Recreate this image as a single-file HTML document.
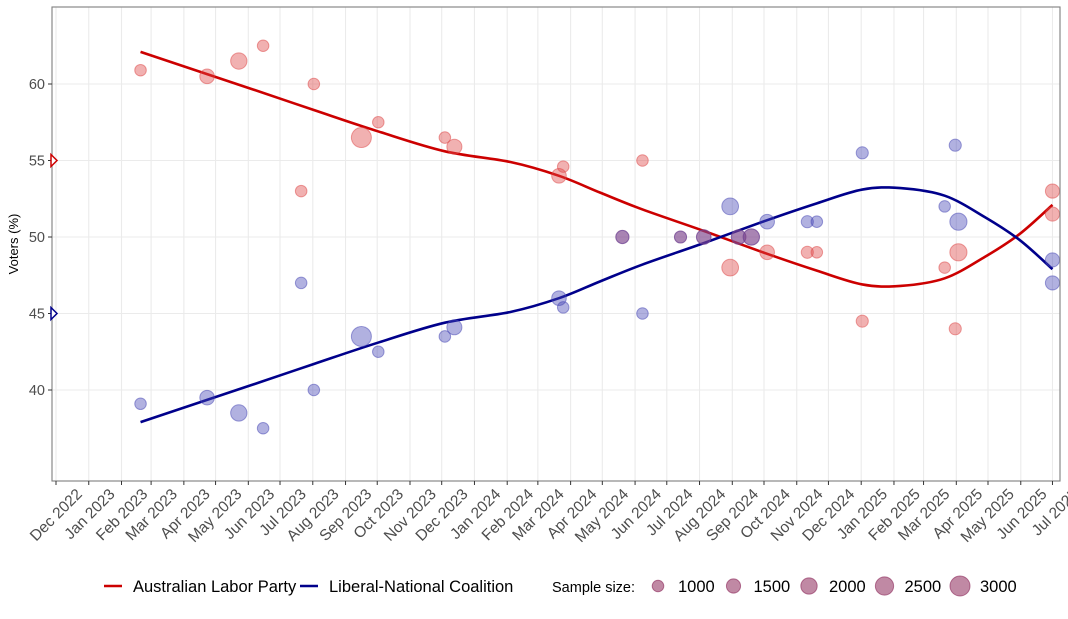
<!DOCTYPE html>
<html><head><meta charset="utf-8"><style>
body{margin:0;background:#fff;font-family:"Liberation Sans",sans-serif}
svg text{font-family:"Liberation Sans",sans-serif}
</style></head><body>
<svg id="chart" width="1068" height="614" xmlns="http://www.w3.org/2000/svg">
<rect x="0" y="0" width="1068" height="614" fill="#fff"/>
<g id="grid"></g><g id="lines"></g><g id="points"></g><g id="axes"></g><g id="legend"></g>
</svg>
<script>
const pollDates=["2023-02-19","2023-04-23","2023-05-23","2023-06-15","2023-07-21","2023-08-02","2023-09-16","2023-10-02","2023-12-04","2023-12-13","2024-03-21","2024-03-25","2024-05-20","2024-06-08","2024-07-14","2024-08-05","2024-08-30","2024-09-07","2024-09-19","2024-10-04","2024-11-11","2024-11-20","2025-01-02","2025-03-21","2025-03-31","2025-04-03","2025-07-01","2025-07-01"];
const laborValues=[60.9,60.5,61.5,62.5,53,60,56.5,57.5,56.5,55.9,54,54.6,50,55,50,50,48,50,50,49,49,49,44.5,48,44,49,53,51.5];
const coalitionValues=[39.1,39.5,38.5,37.5,47,40,43.5,42.5,43.5,44.1,46,45.4,50,45,50,50,52,50,50,51,51,51,55.5,52,56,51,47,48.5];
const sampleSizes=[1000,1600,2000,1000,1000,1000,3000,1000,1000,1700,1600,1000,1300,1000,1100,1600,2100,1600,2000,1600,1100,1000,1100,1000,1100,2200,1500,1500];
const trendDates=["2023-02-19","2023-06-03","2023-08-02","2023-10-02","2023-12-04","2024-02-04","2024-03-21","2024-04-29","2024-06-08","2024-08-05","2024-10-04","2024-11-20","2025-01-02","2025-02-07","2025-03-21","2025-04-28","2025-05-31","2025-07-01"];
const laborTrend=[62.1,59.7,58.3,56.9,55.6,54.9,54.0,52.9,51.8,50.4,48.9,47.8,46.9,46.8,47.3,48.7,50.2,52.1];
const coalitionTrend=[37.9,40.3,41.7,43.1,44.4,45.1,46.0,47.1,48.2,49.6,51.1,52.2,53.1,53.2,52.7,51.3,49.8,47.9];
const tickLabels=["Dec 2022","Jan 2023","Feb 2023","Mar 2023","Apr 2023","May 2023","Jun 2023","Jul 2023","Aug 2023","Sep 2023","Oct 2023","Nov 2023","Dec 2023","Jan 2024","Feb 2024","Mar 2024","Apr 2024","May 2024","Jun 2024","Jul 2024","Aug 2024","Sep 2024","Oct 2024","Nov 2024","Dec 2024","Jan 2025","Feb 2025","Mar 2025","Apr 2025","May 2025","Jun 2025","Jul 2025"];
const yTicks=[40,45,50,55,60];
const legendSizes=[1000,1500,2000,2500,3000];

const NS="http://www.w3.org/2000/svg";
const P={l:52,r:1060,t:7,b:481};
const D0=Date.UTC(2022,11,1);
function x(d){const p=d.split("-");const t=Date.UTC(+p[0],+p[1]-1,+p[2]);return 56+(t-D0)/86400000*1.0567;}
function y(v){return 84+(60-v)*15.3;}
function rad(n){return Math.sqrt(n)*0.1826;}
function el(tag,attrs,parent){const e=document.createElementNS(NS,tag);for(const k in attrs)e.setAttribute(k,attrs[k]);parent.appendChild(e);return e;}
const months=["Jan","Feb","Mar","Apr","May","Jun","Jul","Aug","Sep","Oct","Nov","Dec"];
function labelDate(s){const p=s.split(" ");return p[1]+"-"+String(months.indexOf(p[0])+1).padStart(2,"0")+"-01";}

const grid=document.getElementById("grid");
yTicks.forEach(v=>{const l=el("line",{x1:P.l,x2:P.r,y1:y(v),y2:y(v),stroke:"#ebebeb","stroke-width":1.1},grid);

});
tickLabels.forEach(s=>{const xx=x(labelDate(s));const l=el("line",{x1:xx,x2:xx,y1:P.t,y2:P.b,stroke:"#ebebeb","stroke-width":1.1},grid);

});

function smooth(ds,vs){const pts=ds.map((d,i)=>[x(d),y(vs[i])]);let s="M"+pts[0][0]+","+pts[0][1];
for(let i=0;i<pts.length-1;i++){const p0=pts[Math.max(0,i-1)],p1=pts[i],p2=pts[i+1],p3=pts[Math.min(pts.length-1,i+2)];
s+=" C"+(p1[0]+(p2[0]-p0[0])/6)+","+(p1[1]+(p2[1]-p0[1])/6)+" "+(p2[0]-(p3[0]-p1[0])/6)+","+(p2[1]-(p3[1]-p1[1])/6)+" "+p2[0]+","+p2[1];}return s;}
const lines=document.getElementById("lines");
const lt=el("path",{d:smooth(trendDates,laborTrend),fill:"none",stroke:"#cc0000","stroke-width":2.6},lines);


const ct=el("path",{d:smooth(trendDates,coalitionTrend),fill:"none",stroke:"#00008b","stroke-width":2.6},lines);



const pts=document.getElementById("points");
pollDates.forEach((d,i)=>{
 const a=el("circle",{cx:x(d),cy:y(laborValues[i]),r:rad(sampleSizes[i]),fill:"rgba(222,70,70,0.42)",stroke:"rgba(222,70,70,0.5)"},pts);
 
 
 const b=el("circle",{cx:x(d),cy:y(coalitionValues[i]),r:rad(sampleSizes[i]),fill:"rgba(70,70,180,0.42)",stroke:"rgba(70,70,180,0.5)"},pts);
 
 
});

const ax=document.getElementById("axes");
const fr=el("rect",{x:P.l,y:P.t,width:P.r-P.l,height:P.b-P.t,fill:"none",stroke:"#7f7f7f","stroke-width":1.1},ax);


yTicks.forEach(v=>{el("line",{x1:P.l-4,x2:P.l,y1:y(v),y2:y(v),stroke:"#333"},ax);
 const t=el("text",{x:P.l-7,y:y(v)+5,"text-anchor":"end","font-size":14.5,fill:"#4d4d4d"},ax);t.textContent=v;
 
 });
tickLabels.forEach(s=>{const xx=x(labelDate(s));el("line",{x1:xx,x2:xx,y1:P.b,y2:P.b+4,stroke:"#333"},ax);
 const ax0=xx+27, ay0=P.b+14;
 const t=el("text",{x:ax0,y:ay0,"text-anchor":"end","font-size":15.5,fill:"#4d4d4d",transform:"rotate(-45 "+ax0+" "+ay0+")"},ax);t.textContent=s;
 
 });
const yt=el("text",{x:18,y:244,"text-anchor":"middle","font-size":13,fill:"#000",transform:"rotate(-90 18 244)"},ax);yt.textContent="Voters (%)";


[[55,"#cc0000","labor-election-marker"],[45,"#00008b","coalition-election-marker"]].forEach(m=>{const yy=y(m[0]);
 const p=el("path",{d:`M${P.l-1},${yy-6} L${P.l+5},${yy} L${P.l-1},${yy+6} Z`,fill:"#fff",stroke:m[1],"stroke-width":1.5},ax);
 
 });

const lg=document.getElementById("legend");
const ly=586;
function lgText(tx,s,name,fs){const t=el("text",{x:tx,y:ly+6,"font-size":fs||16.5,fill:"#000"},lg);t.textContent=s;
 
 }
const l1=el("line",{x1:104,x2:122,y1:ly,y2:ly,stroke:"#cc0000","stroke-width":2.6},lg);


lgText(133,"Australian Labor Party","legend-labor-label");
const l2=el("line",{x1:300,x2:318,y1:ly,y2:ly,stroke:"#00008b","stroke-width":2.6},lg);


lgText(329,"Liberal-National Coalition","legend-coalition-label");
lgText(552,"Sample size:","legend-size-title",14.5);
legendSizes.forEach((n,i)=>{const cx=658+i*75.5;
 const c=el("circle",{cx:cx,cy:ly,r:rad(n),fill:"rgba(140,40,90,0.55)",stroke:"rgba(140,40,90,0.6)"},lg);
 
 
 lgText(cx+20,String(n),"legend-size-label");});
</script>
</body></html>
